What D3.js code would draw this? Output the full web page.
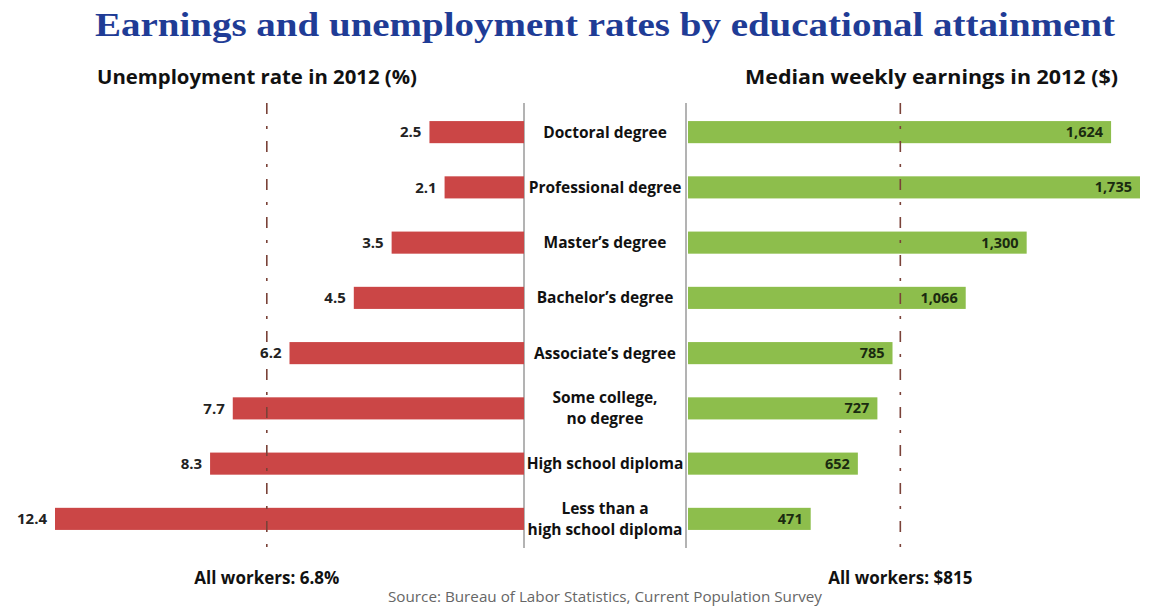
<!DOCTYPE html>
<html>
<head>
<meta charset="utf-8">
<script src="https://cdn.jsdelivr.net/npm/d3@7"></script>
<style>
  html, body { margin: 0; padding: 0; background: #ffffff; }
  svg { display: block; }
  text { font-family: "Open Sans", Lato, sans-serif; }
</style>
</head>
<body>
<div id="chart"></div>
<script>
const categories = ["Doctoral degree", "Professional degree", "Master's degree", "Bachelor's degree",
  "Associate's degree", "Some college, no degree", "High school diploma", "Less than a high school diploma"];
const categoryLines = [["Doctoral degree"], ["Professional degree"], ["Master\u2019s degree"], ["Bachelor\u2019s degree"],
  ["Associate\u2019s degree"], ["Some college,", "no degree"], ["High school diploma"], ["Less than a", "high school diploma"]];
const unemployment = [2.5, 2.1, 3.5, 4.5, 6.2, 7.7, 8.3, 12.4];
const unemploymentLabels = ["2.5", "2.1", "3.5", "4.5", "6.2", "7.7", "8.3", "12.4"];
const earnings = [1624, 1735, 1300, 1066, 785, 727, 652, 471];
const earningsLabels = ["1,624", "1,735", "1,300", "1,066", "785", "727", "652", "471"];
const allWorkersUnemployment = 6.8;
const allWorkersEarnings = 815;
const titleText = "Earnings and unemployment rates by educational attainment";
const leftHeader = "Unemployment rate in 2012 (%)";
const rightHeader = "Median weekly earnings in 2012 ($)";
const leftFooter = "All workers: 6.8%";
const rightFooter = "All workers: $815";
const sourceText = "Source: Bureau of Labor Statistics, Current Population Survey";

const W = 1151, H = 606;
const svg = d3.select("#chart").append("svg").attr("width", W).attr("height", H);

const y = d3.scaleBand().domain(categories).range([104.5, 546.5]).paddingInner(0.6).paddingOuter(0.3);
const xL = d3.scaleLinear().domain([0, 12.4]).range([524, 55]);
const xR = d3.scaleLinear().domain([0, 1735]).range([688, 1140]);

const red = "#cb4646", green = "#8dbe4c", dashColor = "#7a4238";

// Title
svg.append("text").attr("x", 605).attr("y", 36).attr("text-anchor", "middle")
  .style("font-family", "'Liberation Serif', 'DejaVu Serif', serif").style("font-weight", "bold")
  .style("font-size", "34px").attr("fill", "#1f3c96")
  .attr("textLength", 1020).attr("lengthAdjust", "spacingAndGlyphs").text(titleText);

svg.append("text").attr("x", 97).attr("y", 84).style("font-weight", "bold").style("font-size", "20px")
  .attr("fill", "#111").attr("textLength", 320).attr("lengthAdjust", "spacingAndGlyphs").text(leftHeader);
svg.append("text").attr("x", 745).attr("y", 84).style("font-weight", "bold").style("font-size", "20px")
  .attr("fill", "#111").attr("textLength", 373).attr("lengthAdjust", "spacingAndGlyphs").text(rightHeader);

// Separator lines
[524, 686].forEach(x => {
  svg.append("line").attr("x1", x).attr("x2", x).attr("y1", 103).attr("y2", 548)
    .attr("stroke", "#8a8a8a").attr("stroke-width", 1.3);
});

// Left bars
svg.append("g").selectAll("rect").data(unemployment).join("rect")
  .attr("x", d => xL(d)).attr("width", d => xL(0) - xL(d))
  .attr("y", (d, i) => y(categories[i])).attr("height", y.bandwidth()).attr("fill", red);

// Right bars
svg.append("g").selectAll("rect").data(earnings).join("rect")
  .attr("x", xR(0)).attr("width", d => xR(d) - xR(0))
  .attr("y", (d, i) => y(categories[i])).attr("height", y.bandwidth()).attr("fill", green);

// Dashed average lines
const dash = "11,12,3,12";
[xL(allWorkersUnemployment), xR(allWorkersEarnings)].forEach(x => {
  svg.append("line").attr("x1", x).attr("x2", x)
    .attr("y1", 103).attr("y2", 548).attr("stroke", dashColor).attr("stroke-width", 1.6).attr("stroke-dasharray", dash);
});

svg.append("g").selectAll("text").data(unemployment).join("text")
  .attr("x", d => xL(d) - 8).attr("y", (d, i) => y(categories[i]) + y.bandwidth() / 2)
  .attr("dy", "0.35em").attr("text-anchor", "end").style("font-weight", "bold").style("font-size", "15px")
  .attr("fill", "#222").text((d, i) => unemploymentLabels[i]);

svg.append("g").selectAll("text").data(earnings).join("text")
  .attr("x", d => xR(d) - 8).attr("y", (d, i) => y(categories[i]) + y.bandwidth() / 2)
  .attr("dy", "0.35em").attr("text-anchor", "end").style("font-weight", "bold").style("font-size", "14.5px")
  .attr("fill", "#1a2a10").text((d, i) => earningsLabels[i]);

// Category labels
const cat = svg.append("g").selectAll("text").data(categoryLines).join("text")
  .attr("text-anchor", "middle").style("font-weight", "bold").style("font-size", "15.5px").attr("fill", "#111");
cat.each(function(lines, i) {
  const cy = y(categories[i]) + y.bandwidth() / 2;
  const t = d3.select(this);
  lines.forEach((ln, j) => {
    t.append("tspan").attr("x", 605)
      .attr("y", cy + (j - (lines.length - 1) / 2) * 21).attr("dy", "0.35em").text(ln);
  });
});

// Footers
svg.append("text").attr("x", xL(allWorkersUnemployment)).attr("y", 584).attr("text-anchor", "middle")
  .style("font-weight", "bold").style("font-size", "17px").attr("fill", "#111").text(leftFooter);
svg.append("text").attr("x", xR(allWorkersEarnings)).attr("y", 584).attr("text-anchor", "middle")
  .style("font-weight", "bold").style("font-size", "17px").attr("fill", "#111").text(rightFooter);
svg.append("text").attr("x", 605).attr("y", 602).attr("text-anchor", "middle")
  .style("font-size", "14px").attr("fill", "#666").attr("textLength", 434).attr("lengthAdjust", "spacingAndGlyphs")
  .text(sourceText);
</script>
</body>
</html>
